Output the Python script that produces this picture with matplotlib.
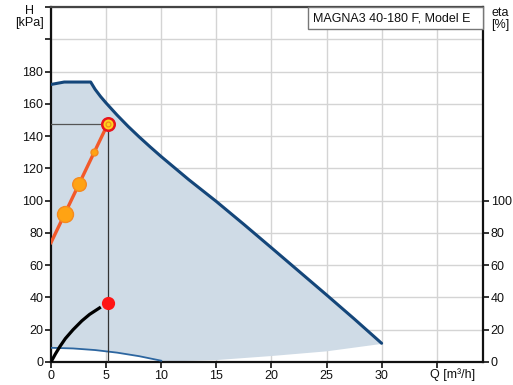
import numpy as np
import matplotlib.pyplot as plt
from matplotlib.patches import Rectangle
from matplotlib.transforms import blended_transform_factory

plt.rcParams['font.family'] = ['Liberation Sans', 'DejaVu Sans']

# max curve (upper limit of the operating range)
q_max = [0, 1.2, 3.6, 4.0, 4.5, 5.0, 6.0, 7.0, 8.0, 9.0, 10, 12.5, 15,
         17.5, 20, 22.5, 25, 27.5, 30]
h_max = [172, 173.5, 173.5, 169, 164.5, 160.5, 153, 146, 139.5, 133.3, 127.3,
         113, 99.5, 85.3, 70.8, 56.2, 41.6, 26.8, 11.6]

# min curve
q_min = [0, 2, 4, 6, 8, 10]
h_min = [8.8, 8.4, 7.4, 5.8, 3.6, 0.8]

# lower edge of the range beyond the min curve
q_low = [10, 15, 20, 25, 30]
h_low = [0.2, 1.2, 3.7, 6.6, 11.2]

# proportional pressure control line and setpoints
q_ctrl = [0, 5.15]
h_ctrl = [74, 147.5]
q_pts = [1.27, 2.55, 3.94]
h_pts = [92, 110.4, 130]
pt_sizes = [11.5, 9.8, 5]

duty_q, duty_h = 5.15, 147.5

# efficiency curve
q_eta = [0, 0.4, 0.8, 1.3, 2.0, 2.8, 3.5, 4.4, 5.15]
eta = [0, 5, 9.5, 14.5, 20, 25.5, 29.5, 33.5, 36.8]

x_ticks = [0, 5, 10, 15, 20, 25, 30, 35]
h_ticks = [0, 20, 40, 60, 80, 100, 120, 140, 160, 180]
eta_ticks = [0, 20, 40, 60, 80, 100]

fig = plt.figure(figsize=(5.13, 3.85), dpi=100)
ax = fig.add_axes([51 / 513, 23 / 385, 432 / 513, 355 / 385])
ax.set_xlim(0, 39.2)
ax.set_ylim(0, 220)

# shaded operating range
poly_q = list(q_max) + list(q_low[::-1]) + list(q_min[::-1])
poly_h = list(h_max) + list(h_low[::-1]) + list(h_min[::-1])
ax.fill(poly_q, poly_h, color='#cfdbe6', lw=0, zorder=1)

ax.set_xticks(x_ticks)
ax.set_xticklabels([str(t) for t in x_ticks[:-1]] + [''])
ax.set_yticks(np.arange(0, 221, 20))
ax.set_yticklabels([str(t) if t in h_ticks else '' for t in range(0, 221, 20)])
ax.grid(True, color='#d4d4d4', lw=1, zorder=0)
ax.set_axisbelow(True)
ax.tick_params(labelsize=9, length=4, width=1.2, colors='#111111', pad=1.5)
for t in ax.yaxis.get_major_ticks():
    if t.get_loc() > 180:
        t.tick1line.set_visible(False)

for side in ['left', 'bottom', 'right']:
    ax.spines[side].set_linewidth(1.6)
    ax.spines[side].set_color('#111111')
ax.spines['top'].set_linewidth(1.6)
ax.spines['top'].set_color('#444444')

ax.plot(q_min, h_min, color='#2d66a0', lw=1.3, zorder=3)
ax.plot(q_max, h_max, color='#14467a', lw=2.2, zorder=4, solid_capstyle='round')

# duty point reference lines
ax.plot([0, duty_q], [duty_h, duty_h], color='#555555', lw=0.9, zorder=3)
ax.plot([duty_q, duty_q], [0, duty_h], color='#333333', lw=0.9, zorder=3)

ax.plot(q_ctrl, h_ctrl, color='#f2592a', lw=2.4, zorder=5)
for q, h, s in zip(q_pts, h_pts, pt_sizes):
    ax.plot(q, h, 'o', ms=s, mfc='#ffa313', mec='#f58a1f', mew=1, zorder=6)
ax.plot(duty_q, duty_h, 'o', ms=9, mfc='#ffd21c', mec='#e8141c', mew=1.8, zorder=7)
ax.plot(duty_q, duty_h, 'o', ms=3.5, mfc='none', mec='#f08a1e', mew=0.9, zorder=8)

ax2 = ax.twinx()
ax2.set_ylim(0, 220)
ax2.set_yticks(eta_ticks)
ax2.tick_params(labelsize=9, length=4, width=1.2, colors='#111111', pad=1.5)
for sp in ax2.spines.values():
    sp.set_visible(False)
ax2.plot(q_eta[:-1], eta[:-1], color='black', lw=2.3, zorder=5)
ax2.plot(q_eta[-1], eta[-1], 'o', ms=8.5, color='#ff1414', zorder=6)

# product name box
ax.add_patch(Rectangle((0.595, 0.938), 0.405, 0.062, transform=ax.transAxes,
                       fc='white', ec='#777777', lw=1, zorder=9, clip_on=False))
ax.text(0.606, 0.969, 'MAGNA3 40-180 F, Model E', transform=ax.transAxes,
        fontsize=9, va='center', ha='left', color='#111111', zorder=10)

trans = blended_transform_factory(ax.transData, ax.transAxes)
ax.text(36.45, -0.018, 'Q [m³/h]', transform=trans, fontsize=9,
        ha='center', va='top', color='#111111')

fig.text(30 / 513, 1 - 17 / 385, 'H\n[kPa]', ha='center', va='center',
         fontsize=9, linespacing=0.95, color='#111111')
fig.text(491 / 513, 1 - 19 / 385, 'eta\n[%]', ha='left', va='center',
         fontsize=9, linespacing=0.95, color='#111111')

fig.savefig('out.png', dpi=100)
